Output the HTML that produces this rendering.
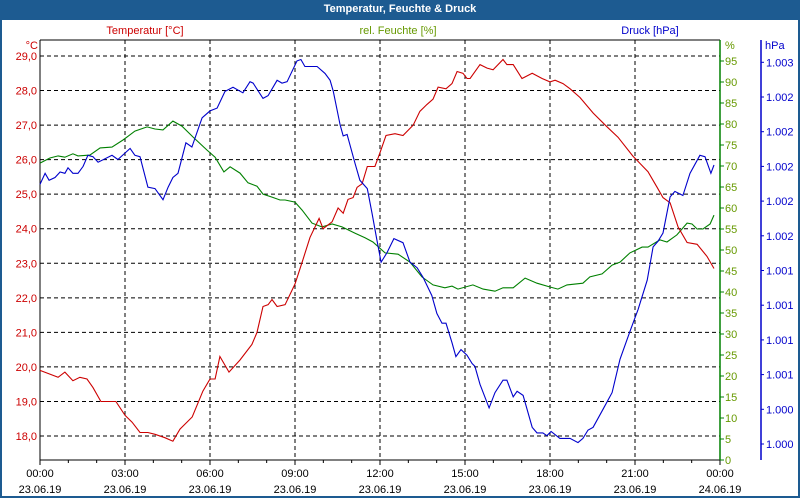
<!DOCTYPE html>
<html><head><meta charset="utf-8"><style>
body{margin:0;width:800px;height:500px;overflow:hidden;background:#fff;font-family:"Liberation Sans",sans-serif}
#frame{position:absolute;left:0;top:0;width:796px;height:496px;border:2px solid #1d5b91;border-top:none}
#title{position:absolute;left:0;top:0;width:800px;height:20px;background:#1d5b91;color:#fff;font-weight:bold;font-size:11px;text-align:center;line-height:19px}
svg{position:absolute;left:0;top:0}
</style></head><body>
<div id="frame"></div>
<div id="title">Temperatur, Feuchte &amp; Druck</div>
<svg id="chart" width="800" height="500"></svg>
<script>
const tempTimes=[0,0.64,0.88,1.16,1.41,1.66,1.87,2.15,2.68,3.0,3.25,3.53,3.81,4.06,4.41,4.69,4.94,5.37,5.75,6.0,6.18,6.35,6.67,7.06,7.48,7.66,7.87,8.05,8.19,8.37,8.65,9.0,9.28,9.53,9.85,9.99,10.31,10.52,10.7,10.87,11.05,11.19,11.37,11.55,11.82,12.0,12.21,12.53,12.81,13.17,13.41,13.66,13.87,14.05,14.33,14.54,14.72,14.93,15.07,15.18,15.53,15.78,15.99,16.34,16.48,16.7,17.01,17.37,17.72,18.0,18.18,18.46,18.71,19.06,19.52,20.01,20.4,20.93,21.46,21.78,21.99,22.24,22.52,22.84,23.19,23.54,23.79];
const tempValues=[19.9,19.7,19.85,19.6,19.7,19.65,19.4,19.0,19.0,18.6,18.4,18.1,18.1,18.05,17.95,17.85,18.2,18.55,19.3,19.65,19.65,20.3,19.85,20.2,20.65,21.0,21.75,21.8,21.95,21.75,21.8,22.4,23.1,23.75,24.3,24.0,24.2,24.6,24.45,24.85,24.9,25.2,25.3,25.8,25.8,26.2,26.7,26.75,26.7,27.0,27.4,27.6,27.75,28.1,28.05,28.2,28.55,28.5,28.35,28.35,28.75,28.65,28.6,28.9,28.75,28.75,28.35,28.5,28.35,28.25,28.3,28.2,28.05,27.8,27.35,26.95,26.65,26.1,25.65,25.2,24.9,24.75,24.05,23.6,23.55,23.2,22.85];
const humTimes=[0,0.35,0.64,0.88,1.16,1.34,1.76,2.12,2.54,2.93,3.35,3.78,4.06,4.34,4.69,5.01,5.4,5.89,6.18,6.49,6.71,7.06,7.34,7.66,7.87,8.19,8.47,8.65,9.0,9.25,9.6,9.95,10.31,10.66,11.12,11.47,11.75,12.18,12.64,13.06,13.48,13.87,14.29,14.54,14.75,15.28,15.64,16.06,16.34,16.7,17.12,17.54,18.0,18.28,18.6,19.16,19.41,19.84,20.19,20.47,20.82,21.25,21.46,21.88,22.13,22.48,22.84,23.01,23.19,23.4,23.65,23.79];
const humValues=[70.7,71.9,72.4,72.1,72.9,72.4,72.6,74.3,74.5,76.2,78.3,79.3,78.8,78.6,80.7,79.5,76.9,73.8,72.1,68.6,69.8,68.3,66.0,65.2,63.3,62.6,61.9,61.9,61.4,59.5,56.4,55.5,56.2,55.5,54.0,52.9,51.9,49.3,49.0,47.1,43.6,41.7,41.0,41.4,40.7,41.7,40.7,40.2,41.0,41.0,43.3,42.1,41.2,40.7,41.7,42.1,43.6,44.3,46.4,47.1,49.3,50.7,50.7,52.4,51.9,53.6,56.4,56.2,55.0,55.0,56.2,58.3];
const presTimes=[0,0.18,0.32,0.53,0.71,0.88,0.99,1.16,1.34,1.52,1.69,1.87,2.05,2.54,2.75,3.18,3.35,3.53,3.81,4.06,4.34,4.52,4.69,4.87,5.15,5.36,5.72,6.0,6.25,6.53,6.81,7.16,7.41,7.52,7.87,8.05,8.37,8.54,8.72,9.07,9.21,9.35,9.78,10.06,10.24,10.35,10.59,10.7,10.84,11.12,11.29,11.55,11.72,11.89,12.04,12.25,12.49,12.81,13.06,13.31,13.52,13.83,14.01,14.19,14.33,14.54,14.68,14.86,15.07,15.25,15.35,15.53,15.85,16.06,16.34,16.48,16.7,16.84,17.05,17.37,17.54,17.75,17.89,18.04,18.35,18.71,18.99,19.16,19.34,19.52,19.87,20.19,20.47,20.82,21.11,21.43,21.64,21.81,21.99,22.24,22.41,22.69,22.94,23.29,23.47,23.68,23.79];
const presValues=[1001.87,1001.95,1001.90,1001.92,1001.96,1001.95,1001.99,1001.95,1001.95,1002.00,1002.08,1002.07,1002.03,1002.08,1002.05,1002.13,1002.08,1002.07,1001.85,1001.84,1001.76,1001.85,1001.92,1001.95,1002.17,1002.14,1002.35,1002.40,1002.42,1002.54,1002.57,1002.53,1002.61,1002.60,1002.49,1002.51,1002.62,1002.60,1002.61,1002.76,1002.77,1002.72,1002.72,1002.67,1002.62,1002.54,1002.30,1002.22,1002.23,1002.02,1001.90,1001.84,1001.66,1001.47,1001.31,1001.38,1001.48,1001.45,1001.31,1001.27,1001.20,1001.07,1000.94,1000.87,1000.87,1000.73,1000.63,1000.68,1000.64,1000.58,1000.56,1000.43,1000.26,1000.37,1000.46,1000.46,1000.34,1000.38,1000.35,1000.12,1000.08,1000.08,1000.06,1000.09,1000.04,1000.04,1000.01,1000.04,1000.10,1000.12,1000.25,1000.37,1000.61,1000.81,1000.97,1001.18,1001.42,1001.46,1001.52,1001.78,1001.82,1001.79,1001.95,1002.08,1002.07,1001.95,1002.01];
const tempTicks=[29,28,27,26,25,24,23,22,21,20,19,18];
const humTicks=[95,90,85,80,75,70,65,60,55,50,45,40,35,30,25,20,15,10,5,0];
const presTickValues=[1000,1000.25,1000.5,1000.75,1001,1001.25,1001.5,1001.75,1002,1002.25,1002.5,1002.75];
const presTickLabels=["1.000","1.000","1.001","1.001","1.001","1.001","1.002","1.002","1.002","1.002","1.002","1.003"];
const timeTicks=[0,3,6,9,12,15,18,21,24];
const timeLabels=["00:00","03:00","06:00","09:00","12:00","15:00","18:00","21:00","00:00"];
const dateLabels=["23.06.19","23.06.19","23.06.19","23.06.19","23.06.19","23.06.19","23.06.19","23.06.19","24.06.19"];

const L=40,R=720,T=40,B=460;
const xS=t=>L+t*(R-L)/24;
const yT=v=>56+(29-v)*34.545;
const yH=v=>B-v*4.2;
const yP=v=>444-(v-1000)*138.8;
const svg=document.getElementById('chart');
const NS='http://www.w3.org/2000/svg';
function mk(tag,attrs,name,parent){const e=document.createElementNS(NS,tag);for(const k in attrs)e.setAttribute(k,attrs[k]);


(parent||svg).appendChild(e);return e;}
function txt(x,y,s,color,anchor,name){const e=mk('text',{x:x,y:y,fill:color,'font-size':'11','text-anchor':anchor,'font-family':'Liberation Sans, sans-serif'},name);e.textContent=s;return e;}

// grid
tempTicks.forEach(v=>{mk('line',{x1:L,x2:R,y1:yT(v),y2:yT(v),stroke:'#000','stroke-dasharray':'4,3','stroke-width':1},'h-grid-line');});
timeTicks.slice(1,-1).forEach(t=>{mk('line',{x1:xS(t),x2:xS(t),y1:T,y2:B,stroke:'#000','stroke-dasharray':'4,3','stroke-width':1},'v-grid-line');});
// axes
mk('line',{x1:L,x2:R,y1:T,y2:T,stroke:'#000'},'plot-top-border');
mk('line',{x1:L,x2:L,y1:T,y2:B,stroke:'#000'},'left-axis');
mk('line',{x1:L,x2:R,y1:B,y2:B,stroke:'#000'},'x-axis');
mk('line',{x1:R,x2:R,y1:T,y2:B,stroke:'#008000','stroke-width':1.5},'humidity-axis');
mk('line',{x1:761,x2:761,y1:T,y2:B,stroke:'#0000cc','stroke-width':1.5},'pressure-axis');
for(let h=0;h<=24;h++){mk('line',{x1:xS(h),x2:xS(h),y1:B,y2:B+(h%3?3:5),stroke:'#000'},'x-tick');}
tempTicks.forEach(v=>{txt(37,yT(v)+4,v.toFixed(1).replace('.',','),'#cc0000','end','temp-tick-label');});
humTicks.forEach(v=>{mk('line',{x1:R,x2:R+4,y1:yH(v),y2:yH(v),stroke:'#008000'},'humidity-tick');txt(725,yH(v)+4,String(v),'#669900','start','humidity-tick-label');});
presTickValues.forEach((v,i)=>{mk('line',{x1:761,x2:764,y1:yP(v),y2:yP(v),stroke:'#0000cc'},'pressure-tick');txt(766,yP(v)+4,presTickLabels[i],'#0000cc','start','pressure-tick-label');});
timeTicks.forEach((t,i)=>{txt(xS(t),477,timeLabels[i],'#000','middle','time-label');txt(xS(t),493,dateLabels[i],'#000','middle','date-label');});
txt(145,34,'Temperatur [°C]','#cc0000','middle','temperature-title');
txt(398,34,'rel. Feuchte [%]','#669900','middle','humidity-title');
txt(650,34,'Druck [hPa]','#0000cc','middle','pressure-title');
txt(38,49,'°C','#cc0000','end','temp-unit');
txt(725,49,'%','#669900','start','humidity-unit');
txt(765,49,'hPa','#0000cc','start','pressure-unit');
// series
function line(ts,vs,yf,color,name){mk('polyline',{points:ts.map((t,i)=>xS(t).toFixed(1)+','+yf(vs[i]).toFixed(1)).join(' '),fill:'none',stroke:color,'stroke-width':1.1},name);}
line(humTimes,humValues,yH,'#008000','humidity-line');
line(tempTimes,tempValues,yT,'#cc0000','temperature-line');
line(presTimes,presValues,yP,'#0000cc','pressure-line');
</script>
</body></html>
